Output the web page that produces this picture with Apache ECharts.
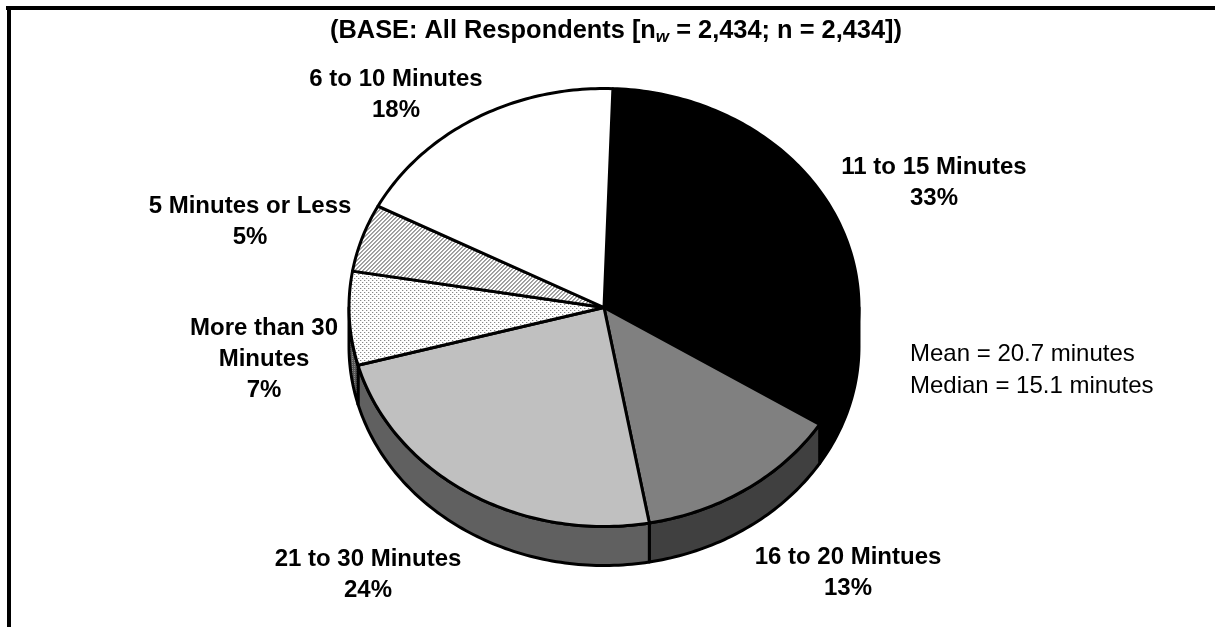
<!DOCTYPE html>
<html>
<head>
<meta charset="utf-8">
<style>html,body{margin:0;padding:0;background:#fff}#c{width:1215px;height:627px}</style>
<script src="https://cdn.jsdelivr.net/npm/echarts@6/dist/echarts.min.js"></script>
</head>
<body>
<div id="c"></div>
<script>
// ---- data ----
var categories = ['11 to 15 Minutes', '16 to 20 Mintues', '21 to 30 Minutes', 'More than 30\nMinutes', '5 Minutes or Less', '6 to 10 Minutes'];
var shares = [33.4, 13.2, 23.6, 6.9, 5.0, 17.9];
var notes = ['Mean = 20.7 minutes', 'Median = 15.1 minutes'];

// ---- layout and style ----
var CX = 604, CY = 307.5, RX = 255, RY = 219, DEPTH = 39, START = 2;
var labelCentres = [[934, 183], [848, 572.5], [368, 575], [264, 359.5], [250, 222], [396, 94.5]];

function makePattern(size, painter) {
  var cv = document.createElement('canvas');
  cv.width = cv.height = size;
  var ctx = cv.getContext('2d');
  ctx.fillStyle = '#fff';
  ctx.fillRect(0, 0, size, size);
  painter(ctx);
  return { image: cv, repeat: 'repeat' };
}
var hatch = makePattern(4, function (x) {
  for (var i = 0; i < 4; i++) for (var j = 0; j < 4; j++) {
    var k = (i + j) % 4;
    if (k === 0) { x.fillStyle = '#999'; x.fillRect(i, j, 1, 1); }
    if (k === 1) { x.fillStyle = '#aaa'; x.fillRect(i, j, 1, 1); }
  }
});
var dots = makePattern(4, function (x) {
  x.fillStyle = '#888';
  x.fillRect(0, 0, 1, 1);
  x.fillRect(2, 2, 1, 1);
  x.fillStyle = '#ddd';
  x.fillRect(1, 0, 1, 1);
  x.fillRect(3, 2, 1, 1);
});
var dotsDark = makePattern(2, function (x) {
  x.fillStyle = '#555';
  x.fillRect(0, 0, 2, 2);
  x.fillStyle = '#888';
  x.fillRect(0, 0, 1, 1);
});
var topFills = ['#000000', '#808080', '#c0c0c0', dots, hatch, '#ffffff'];
var wallFills = ['#000000', '#404040', '#606060', dotsDark, '#666', '#fff'];

var total = shares.reduce(function (a, b) { return a + b; }, 0);
function rim(t, dy) {
  var r = t * Math.PI / 180;
  return [CX + RX * Math.sin(r), CY - RY * Math.cos(r) + dy];
}
function sliceRange(i) {
  var before = shares.slice(0, i).reduce(function (a, b) { return a + b; }, 0);
  return [START + before / total * 360, START + (before + shares[i]) / total * 360];
}
function arc(a, b, dy) {
  var pts = [], n = Math.max(2, Math.ceil(Math.abs(b - a)));
  for (var k = 0; k <= n; k++) pts.push(rim(a + (b - a) * k / n, dy));
  return pts;
}
function renderTop(params) {
  var i = params.dataIndex, rg = sliceRange(i);
  return {
    type: 'polygon',
    shape: { points: [[CX, CY]].concat(arc(rg[0], rg[1], 0)) },
    style: { fill: topFills[i], stroke: '#000', lineWidth: 3, lineJoin: 'round' }
  };
}
function renderWall(params) {
  var i = params.dataIndex, rg = sliceRange(i);
  var a = Math.max(rg[0], 90), b = Math.min(rg[1], 270);
  if (b <= a) return null;
  return {
    type: 'polygon',
    shape: { points: arc(a, b, 0).concat(arc(b, a, DEPTH)) },
    style: { fill: wallFills[i], stroke: '#000', lineWidth: 3, lineJoin: 'round' }
  };
}

var BOLD = 'bold 24px "Liberation Sans"';
var TITLE = 'bold 25.4px "Liberation Sans"';
var texts = categories.map(function (name, i) {
  return {
    type: 'text', x: labelCentres[i][0], y: labelCentres[i][1], z: 10,
    style: {
      text: name + '\n' + Math.round(shares[i]) + '%', fill: '#000', font: BOLD,
      align: 'center', verticalAlign: 'middle', lineHeight: 31
    }
  };
});
var noteText = {
  type: 'text', x: 910, y: 370, z: 10,
  style: {
    text: notes.join('\n'), fill: '#000', font: '24px "Liberation Sans"',
    align: 'left', verticalAlign: 'middle', lineHeight: 32
  }
};
var titleText = {
  type: 'text', x: 616, y: 31, z: 10,
  style: {
    text: '{b|(BASE: All Respondents [n}{s|w}{b| = 2,434; n = 2,434])}',
    align: 'center', verticalAlign: 'middle',
    rich: {
      b: { font: TITLE, fill: '#000', lineHeight: 30 },
      s: { font: 'italic bold 17px "Liberation Sans"', fill: '#000', lineHeight: 30, verticalAlign: 'bottom', padding: [10, 0, 0, 0] }
    }
  }
};
var frame = [
  { type: 'rect', shape: { x: 6, y: 6, width: 1209, height: 4 }, style: { fill: '#000' }, z: 10 },
  { type: 'rect', shape: { x: 7, y: 6, width: 4, height: 621 }, style: { fill: '#000' }, z: 10 }
];

var chart = echarts.init(document.getElementById('c'), null, { renderer: 'canvas' });
chart.setOption({
  animation: false,
  backgroundColor: '#fff',
  graphic: { elements: frame.concat(texts, [noteText, titleText]) },
  series: [
    { type: 'custom', coordinateSystem: 'none', silent: true, clip: false, data: shares, renderItem: renderWall, z: 1 },
    { type: 'custom', coordinateSystem: 'none', silent: true, clip: false, data: shares, renderItem: renderTop, z: 2 }
  ]
});
</script>
</body>
</html>
